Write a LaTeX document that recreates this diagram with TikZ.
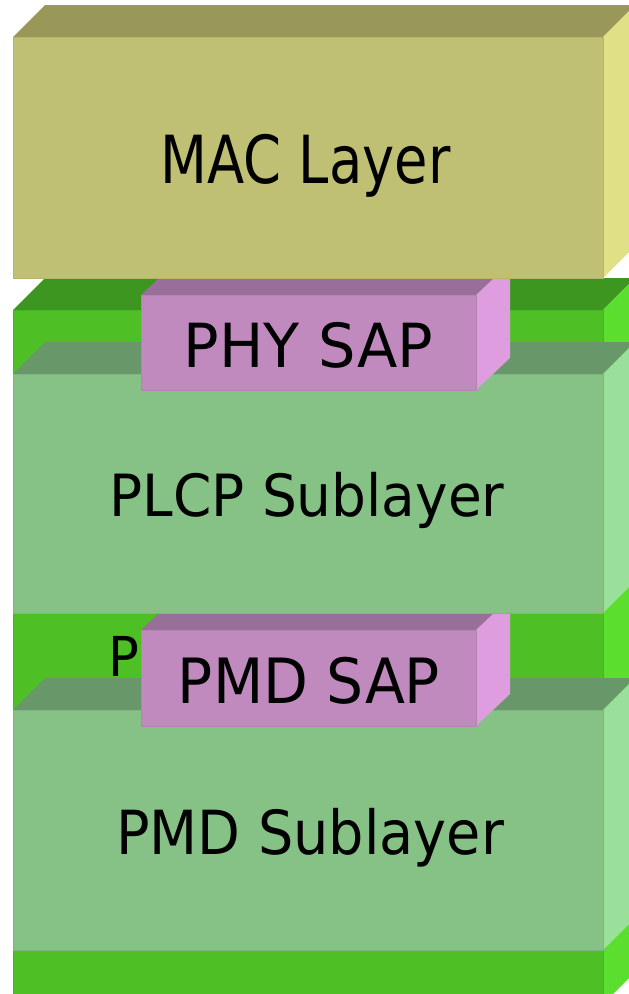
\documentclass[tikz,border=0pt]{standalone}
\usepackage{fontspec}
\newfontfamily\lblfont{DejaVu Sans}
\definecolor{macF}{RGB}{192,192,116}
\definecolor{macT}{RGB}{153,152,89}
\definecolor{macS}{RGB}{224,224,135}
\definecolor{phyF}{RGB}{78,192,38}
\definecolor{phyT}{RGB}{60,150,32}
\definecolor{phyS}{RGB}{92,222,46}
\definecolor{subF}{RGB}{134,194,134}
\definecolor{subT}{RGB}{104,152,106}
\definecolor{subS}{RGB}{154,224,154}
\definecolor{sapF}{RGB}{192,138,191}
\definecolor{sapT}{RGB}{152,111,152}
\definecolor{sapS}{RGB}{222,157,222}
% a slab: front corners (x1,y1)-(x2,y2), depth (dx,dy), colours front/top/side
\newcommand\slab[9]{%
  \fill[#8] (#1,#2) -- (#1+#5,#2-#6) -- (#3+#5,#2-#6) -- (#3,#2) -- cycle;
  \fill[#9] (#3,#2) -- (#3+#5,#2-#6) -- (#3+#5,#4-#6) -- (#3,#4) -- cycle;
  \fill[#7] (#1,#2) rectangle (#3,#4);
  \draw[#7!94!black, line width=0.8pt] (#1,#2) rectangle (#3,#4);
}
\tikzset{
  lbl/.style={anchor=base, inner sep=0pt, text=black},
}
\newcommand\lbltext[3]{\fontsize{#1}{#1}\lblfont\scalebox{#2}[1]{#3}}
\begin{document}
\begin{tikzpicture}[x=1pt, y=-1pt]
\useasboundingbox (0,0) rectangle (629,994);
\begin{scope}
\clip (0,0) rectangle (629,994);
% physical layer block (back)
\slab{13}{310}{603}{1004}{32}{32}{phyF}{phyT}{phyS}
\node[lbl, anchor=base west] (phy) at (108.6,676.7) {\lbltext{55}{0.93}{P}};
% PMD sublayer
\slab{13}{710}{603}{950}{32}{32}{subF}{subT}{subS}
\node[lbl] (pmd) at (310,854.3) {\lbltext{60.8}{0.916}{PMD Sublayer}};
% PMD service access point
\slab{141}{630}{476}{726}{34}{32}{sapF}{sapT}{sapS}
\node[lbl] (pmdsap) at (309,703.3) {\lbltext{62.4}{0.935}{PMD SAP}};
% PLCP sublayer
\slab{13}{374}{603}{613}{32}{32}{subF}{subT}{subS}
\node[lbl] (plcp) at (307,516.7) {\lbltext{58.2}{0.944}{PLCP Sublayer}};
% PHY service access point
\slab{141}{295}{476}{390}{34}{32}{sapF}{sapT}{sapS}
\node[lbl] (physap) at (308.5,367.7) {\lbltext{60.8}{0.97}{PHY SAP}};
% MAC layer (front)
\slab{13}{37}{603}{278}{32}{32}{macF}{macT}{macS}
\node[lbl] (mac) at (305.5,183.3) {\lbltext{66.3}{0.82}{MAC Layer}};
\end{scope}
\end{tikzpicture}
\end{document}
